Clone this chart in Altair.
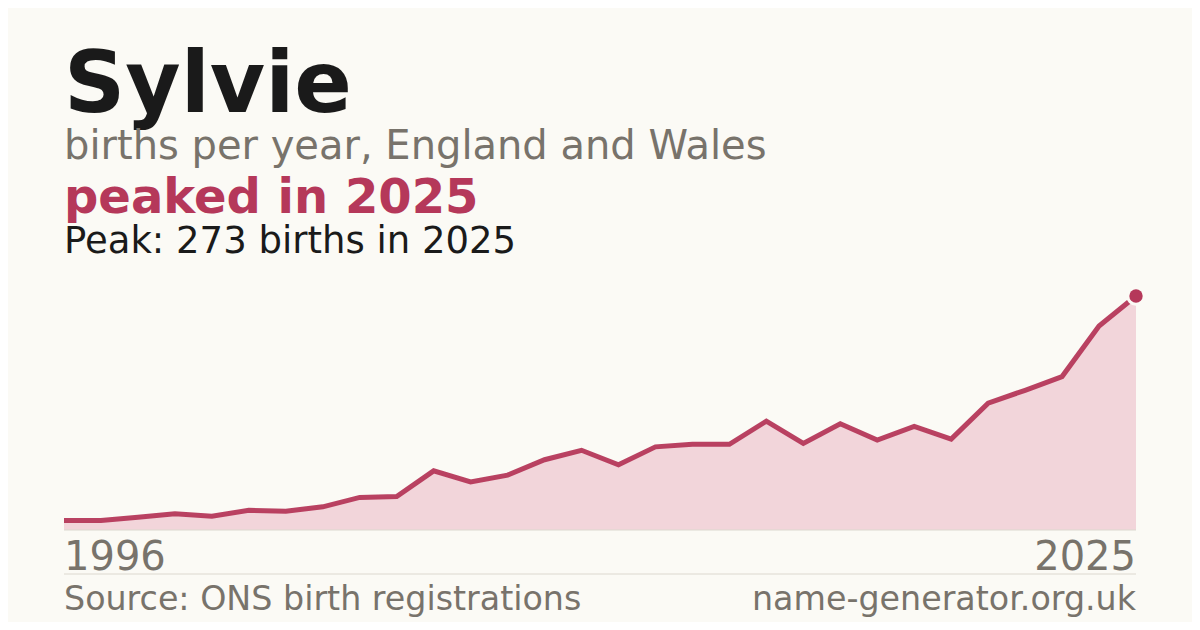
import altair as alt
import pandas as pd

years = list(range(1996, 2026))
births = [11, 11, 15, 19, 16, 23, 22, 27, 38, 39, 69, 56, 64, 82, 93, 76, 97, 100, 100, 127,
          101, 124, 105, 121, 106, 148, 163, 179, 238, 273]

name = "Sylvie"
subtitle = "births per year, England and Wales"
headline = "peaked in 2025"
peak_text = "Peak: 273 births in 2025"
source_text = "Source: ONS birth registrations"
site_text = "name-generator.org.uk"

BG = "#fbfaf5"
RED = "#b5385a"
FILL = "#f2d5da"
GREY = "#78736b"
DARK = "#1a1a1a"
FONT = "DejaVu Sans"

df = pd.DataFrame({"year": years, "births": births})
peak_df = df[df["births"] == df["births"].max()]
ends = pd.DataFrame({"year": [years[0], years[-1]], "label": [str(years[0]), str(years[-1])]})

W, H = 1072, 522
x = alt.X("year:Q", scale=alt.Scale(domain=[years[0], years[-1]], nice=False), axis=None)
y = alt.Y("births:Q", scale=alt.Scale(domain=[0, 609], nice=False, zero=True), axis=None)

base = alt.Chart(df)
area = base.mark_area(color=FILL, opacity=1).encode(x=x, y=y)
line = base.mark_line(color=RED, strokeWidth=5, strokeJoin="miter", opacity=0.95).encode(x=x, y=y)
halo = alt.Chart(peak_df).mark_circle(color=BG, size=380, opacity=1).encode(x=x, y=y)
dot = alt.Chart(peak_df).mark_circle(color=RED, size=180, opacity=1).encode(x=x, y=y)

baseline = alt.Chart(pd.DataFrame({"v": [0]})).mark_rule(color="#dcd8cf", strokeWidth=1).encode(
    y=alt.Y("v:Q", scale=alt.Scale(domain=[0, 609], nice=False), axis=None),
    x=alt.value(0), x2=alt.value(W))
sep = alt.Chart(pd.DataFrame({"v": [0]})).mark_rule(color="#dcd8cf", strokeWidth=1).encode(
    x=alt.value(0), x2=alt.value(W), y=alt.value(566))

def txt(t, ypx, size, color, weight="normal", xpx=0, align="left"):
    return alt.Chart(pd.DataFrame({"t": [t]})).mark_text(
        font=FONT, fontSize=size, fontWeight=weight, color=color, align=align, baseline="alphabetic"
    ).encode(text="t:N", x=alt.value(xpx), y=alt.value(ypx))

t1 = txt(name, 104, 85, DARK, "bold")
t2 = txt(subtitle, 151, 40, GREY)
t3 = txt(headline, 205, 48, RED, "bold")
t4 = txt(peak_text, 245, 37, DARK)
t5 = txt(source_text, 602, 33.3, GREY)
t6 = txt(site_text, 602, 33.3, GREY, xpx=W, align="right")

left_lbl = alt.Chart(ends.iloc[[0]]).mark_text(font=FONT, fontSize=40, color=GREY, align="left",
                                               baseline="alphabetic").encode(x=x, y=alt.value(562), text="label:N")
right_lbl = alt.Chart(ends.iloc[[1]]).mark_text(font=FONT, fontSize=40, color=GREY, align="right",
                                                baseline="alphabetic").encode(x=x, y=alt.value(562), text="label:N")

chart = alt.layer(area, baseline, line, halo, dot, sep, t1, t2, t3, t4, t5, t6, left_lbl, right_lbl).properties(
    width=W, height=H,
    autosize=alt.AutoSizeParams(type="none"),
    padding={"left": 56, "top": 0, "right": 56, "bottom": 92},
    background=BG,
).configure_view(stroke=None)

chart.save("out.html", embed_options={"renderer": "svg", "actions": False})
